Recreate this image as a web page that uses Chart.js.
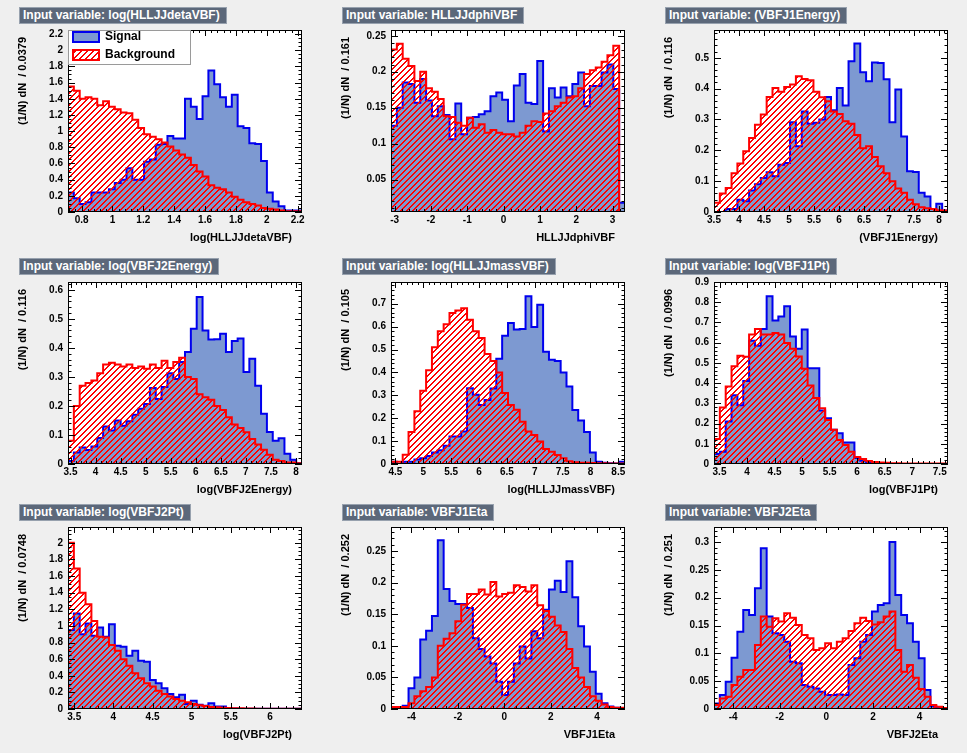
<!DOCTYPE html>
<html>
<head>
<meta charset="utf-8">
<title>TMVA input variables</title>
<script src="https://cdn.jsdelivr.net/npm/chart.js@4.4.1/dist/chart.umd.min.js"></script>
<style>
  html, body { margin: 0; padding: 0; background: #efefef; }
  #wrap { position: relative; width: 967px; height: 753px; overflow: hidden; }
  .panel { position: absolute; width: 323px; height: 245px; }
  .tag {
    position: absolute; height: 15px; line-height: 15px;
    background: #5c687a; border: 1px solid #97a1ae; color: #fff;
    font: bold 12px "Liberation Sans", Arial, Helvetica, sans-serif;
    padding: 0 6px 0 3px; white-space: nowrap;
  }
</style>
</head>
<body>
<div id="wrap"></div>
<script>
const FONT = '"Liberation Sans", Arial, Helvetica, sans-serif';

// 40 bins per histogram, (1/N) dN per bin
const detaSig = [0.24, 0.17, 0.10, 0.12, 0.24, 0.24, 0.24, 0.28, 0.36, 0.40,
  0.54, 0.40, 0.40, 0.62, 0.65, 0.83, 0.84, 0.94, 0.91, 0.91,
  1.40, 1.30, 1.15, 1.43, 1.75, 1.58, 1.42, 1.30, 1.45, 1.06,
  1.04, 0.85, 0.84, 0.63, 0.24, 0.13, 0.07, 0.02, 0.02, 0.02];
const detaBkg = [1.55, 1.50, 1.40, 1.42, 1.40, 1.32, 1.37, 1.30, 1.27, 1.23,
  1.22, 1.14, 1.04, 0.96, 0.93, 0.90, 0.86, 0.81, 0.76, 0.71,
  0.67, 0.58, 0.50, 0.44, 0.33, 0.30, 0.28, 0.24, 0.19, 0.15,
  0.12, 0.10, 0.08, 0.05, 0.04, 0.03, 0.02, 0.01, 0.01, 0.01];

const dphiSig = [0.125, 0.150, 0.185, 0.183, 0.157, 0.190, 0.160, 0.138, 0.152, 0.140,
  0.106, 0.156, 0.113, 0.136, 0.137, 0.141, 0.145, 0.166, 0.171, 0.161,
  0.131, 0.181, 0.197, 0.157, 0.155, 0.215, 0.117, 0.177, 0.164, 0.178,
  0.166, 0.183, 0.199, 0.152, 0.180, 0.180, 0.199, 0.210, 0.176, 0.018];
const dphiBkg = [0.231, 0.239, 0.218, 0.208, 0.187, 0.200, 0.177, 0.172, 0.162, 0.138,
  0.137, 0.129, 0.125, 0.136, 0.122, 0.127, 0.115, 0.119, 0.115, 0.113,
  0.113, 0.110, 0.115, 0.125, 0.131, 0.130, 0.142, 0.145, 0.152, 0.157,
  0.164, 0.166, 0.177, 0.197, 0.202, 0.206, 0.214, 0.223, 0.236, 0.000];

const j1eSig = [0.0, 0.0, 0.01, 0.01, 0.04, 0.035, 0.07, 0.09, 0.11, 0.129,
  0.116, 0.153, 0.159, 0.291, 0.213, 0.326, 0.286, 0.289, 0.30, 0.373,
  0.33, 0.402, 0.345, 0.489, 0.546, 0.453, 0.424, 0.485, 0.483, 0.43,
  0.291, 0.397, 0.245, 0.132, 0.13, 0.062, 0.05, 0.01, 0.027, 0.005];
const j1eBkg = [0.03, 0.06, 0.078, 0.126, 0.157, 0.197, 0.24, 0.283, 0.316, 0.373,
  0.402, 0.39, 0.405, 0.413, 0.44, 0.431, 0.427, 0.39, 0.372, 0.359,
  0.326, 0.318, 0.294, 0.286, 0.25, 0.207, 0.213, 0.178, 0.148, 0.126,
  0.10, 0.076, 0.062, 0.04, 0.025, 0.015, 0.012, 0.01, 0.006, 0.005];

const j2eSig = [0.01, 0.04, 0.057, 0.048, 0.06, 0.09, 0.129, 0.115, 0.15, 0.132,
  0.147, 0.17, 0.19, 0.207, 0.262, 0.224, 0.265, 0.313, 0.293, 0.351,
  0.386, 0.466, 0.575, 0.46, 0.429, 0.43, 0.449, 0.386, 0.424, 0.432,
  0.317, 0.363, 0.27, 0.173, 0.11, 0.08, 0.089, 0.035, 0.015, 0.003];
const j2eBkg = [0.08, 0.20, 0.27, 0.279, 0.288, 0.313, 0.343, 0.349, 0.343, 0.336,
  0.343, 0.331, 0.336, 0.328, 0.343, 0.331, 0.356, 0.331, 0.351, 0.366,
  0.30, 0.293, 0.24, 0.23, 0.221, 0.20, 0.186, 0.161, 0.136, 0.124,
  0.109, 0.086, 0.067, 0.049, 0.032, 0.015, 0.01, 0.005, 0.005, 0.003];

const mjjSig = [0.01, 0.0, 0.01, 0.01, 0.02, 0.025, 0.035, 0.05, 0.06, 0.08,
  0.12, 0.12, 0.142, 0.331, 0.302, 0.258, 0.28, 0.33, 0.46, 0.56,
  0.616, 0.587, 0.59, 0.733, 0.598, 0.696, 0.49, 0.455, 0.45, 0.40,
  0.339, 0.236, 0.19, 0.14, 0.05, 0.01, 0.005, 0.003, 0.002, 0.01];
const mjjBkg = [0.01, 0.01, 0.04, 0.14, 0.23, 0.32, 0.41, 0.51, 0.58, 0.61,
  0.66, 0.67, 0.68, 0.63, 0.58, 0.55, 0.48, 0.45, 0.40, 0.31,
  0.258, 0.237, 0.185, 0.142, 0.127, 0.098, 0.066, 0.054, 0.039, 0.025,
  0.012, 0.008, 0.006, 0.005, 0.004, 0.003, 0.003, 0.002, 0.002, 0.002];

const j1ptSig = [0.05, 0.06, 0.21, 0.34, 0.29, 0.41, 0.61, 0.585, 0.668, 0.83,
  0.71, 0.73, 0.78, 0.63, 0.57, 0.665, 0.474, 0.474, 0.264, 0.226,
  0.169, 0.152, 0.106, 0.106, 0.03, 0.016, 0.01, 0.005, 0, 0,
  0, 0, 0, 0, 0, 0, 0, 0, 0, 0];
const j1ptBkg = [0.124, 0.28, 0.383, 0.483, 0.535, 0.53, 0.64, 0.668, 0.64, 0.64,
  0.648, 0.64, 0.598, 0.57, 0.532, 0.471, 0.388, 0.326, 0.276, 0.218,
  0.169, 0.119, 0.094, 0.061, 0.035, 0.025, 0.015, 0.01, 0.008, 0.006,
  0.004, 0.004, 0.003, 0.003, 0.002, 0.002, 0.002, 0.002, 0.002, 0.002];

const j2ptSig = [0.95, 1.15, 0.90, 1.03, 0.88, 0.98, 0.87, 1.02, 0.76, 0.75,
  0.64, 0.70, 0.58, 0.57, 0.35, 0.31, 0.25, 0.18, 0.14, 0.17,
  0.06, 0.10, 0.05, 0.04, 0.07, 0.03, 0.03, 0.01, 0.005, 0.003,
  0.003, 0.003, 0.002, 0.002, 0.002, 0.002, 0.002, 0.002, 0.002, 0.002];
const j2ptBkg = [2.0, 1.69, 1.40, 1.26, 1.06, 0.87, 0.86, 0.77, 0.70, 0.60,
  0.52, 0.43, 0.37, 0.31, 0.27, 0.22, 0.18, 0.15, 0.12, 0.10,
  0.08, 0.06, 0.045, 0.035, 0.025, 0.02, 0.015, 0.012, 0.01, 0.008,
  0.006, 0.005, 0.004, 0.004, 0.003, 0.003, 0.003, 0.003, 0.003, 0.003];

const j1etaSig = [0.002, 0.003, 0.005, 0.033, 0.05, 0.11, 0.124, 0.147, 0.267, 0.19,
  0.171, 0.166, 0.166, 0.16, 0.112, 0.095, 0.083, 0.072, 0.043, 0.022,
  0.043, 0.072, 0.099, 0.08, 0.123, 0.112, 0.157, 0.189, 0.203, 0.185,
  0.234, 0.177, 0.131, 0.099, 0.059, 0.024, 0.009, 0.004, 0.002, 0.001];
const j1etaBkg = [0.003, 0.003, 0.003, 0.009, 0.02, 0.028, 0.035, 0.05, 0.10, 0.111,
  0.12, 0.139, 0.165, 0.182, 0.182, 0.189, 0.181, 0.201, 0.178, 0.182,
  0.184, 0.196, 0.193, 0.186, 0.196, 0.164, 0.155, 0.146, 0.132, 0.122,
  0.095, 0.065, 0.05, 0.035, 0.02, 0.013, 0.007, 0.003, 0.002, 0.002];

const j2etaSig = [0.01, 0.025, 0.049, 0.092, 0.139, 0.178, 0.169, 0.217, 0.289, 0.166,
  0.136, 0.133, 0.121, 0.085, 0.082, 0.043, 0.04, 0.037, 0.031, 0.025,
  0.025, 0.026, 0.025, 0.079, 0.091, 0.121, 0.133, 0.175, 0.187, 0.19,
  0.30, 0.205, 0.169, 0.154, 0.121, 0.091, 0.034, 0.005, 0.003, 0.002];
const j2etaBkg = [0.007, 0.019, 0.022, 0.043, 0.058, 0.07, 0.07, 0.115, 0.166, 0.148,
  0.163, 0.157, 0.172, 0.164, 0.151, 0.133, 0.127, 0.106, 0.109, 0.118,
  0.109, 0.121, 0.127, 0.14, 0.154, 0.164, 0.158, 0.152, 0.156, 0.166,
  0.175, 0.106, 0.067, 0.079, 0.056, 0.036, 0.022, 0.007, 0.004, 0.002];

// axis setup per panel (row by row)
const variables = ['log(HLLJJdetaVBF)', 'HLLJJdphiVBF', '(VBFJ1Energy)',
  'log(VBFJ2Energy)', 'log(HLLJJmassVBF)', 'log(VBFJ1Pt)',
  'log(VBFJ2Pt)', 'VBFJ1Eta', 'VBFJ2Eta'];
const binWidths = ['0.0379', '0.161', '0.116', '0.116', '0.105', '0.0996', '0.0748', '0.252', '0.251'];
const xRanges = [[0.712, 2.228], [-3.10, 3.34], [3.50, 8.18], [3.45, 8.12], [4.42, 8.62],
  [3.40, 7.65], [3.42, 6.41], [-4.88, 5.20], [-4.82, 5.22]];
const yRanges = [[0, 2.25], [0.005, 0.258], [0, 0.59], [0, 0.627], [0, 0.795],
  [0, 0.9], [0, 2.19], [0, 0.288], [0, 0.327]];
const xSteps = [0.2, 1, 0.5, 0.5, 0.5, 0.5, 0.5, 2, 2];
const ySteps = [0.2, 0.05, 0.1, 0.1, 0.1, 0.1, 0.2, 0.05, 0.05];
const signals = [detaSig, dphiSig, j1eSig, j2eSig, mjjSig, j1ptSig, j2ptSig, j1etaSig, j2etaSig];
const backgrounds = [detaBkg, dphiBkg, j1eBkg, j2eBkg, mjjBkg, j1ptBkg, j2ptBkg, j1etaBkg, j2etaBkg];

const rowTops = [0, 252, 497];
const tagTops = [7, 258, 504];

function fmt(v) {
    return String(+Number(v).toFixed(4));
}

// histogram outline as step points at bin edges
function steps(vals, range) {
    const w = (range[1] - range[0]) / vals.length;
    const pts = [{ x: range[0], y: 0 }];
    vals.forEach((v, i) => pts.push({ x: range[0] + i * w, y: v }));
    pts.push({ x: range[1], y: vals[vals.length - 1] });
    pts.push({ x: range[1], y: 0 });
    return pts;
}

// red diagonal hatch, two pixels per row so it stays red when shrunk
function hatch(ctx) {
    const n = 6;
    const c = document.createElement('canvas');
    c.width = n; c.height = n;
    const g = c.getContext('2d');
    g.fillStyle = '#ff0000';
    for (let i = 0; i < n; i++) {
        g.fillRect(i, n - 1 - i, 1, 1);
        g.fillRect((i + 1) % n, n - 1 - i, 1, 1);
    }
    return ctx.createPattern(c, 'repeat');
}

function eachTick(scale, step, div, fn) {
    const sub = step / div;
    const k0 = Math.ceil(scale.min / sub - 1e-6);
    const k1 = Math.floor(scale.max / sub + 1e-6);
    for (let k = k0; k <= k1; k++) fn(scale.getPixelForValue(k * sub), k % div === 0);
}

// ROOT-like frame: white pad, ticks inside on all four sides, axis titles, legend
const rootFrame = {
    id: 'rootFrame',
    beforeDatasetsDraw(chart) {
        const { ctx, chartArea: a } = chart;
        ctx.save();
        ctx.fillStyle = '#ffffff';
        ctx.fillRect(a.left, a.top, a.width, a.height);
        ctx.restore();
    },
    afterDatasetsDraw(chart, args, o) {
        const { ctx, chartArea: a } = chart;
        const x = chart.scales.x, y = chart.scales.y;
        ctx.save();
        ctx.strokeStyle = '#000';
        ctx.lineWidth = 1;
        ctx.beginPath();
        eachTick(x, o.xStep, o.xDiv, (px, major) => {
            const len = major ? 6 : 3;
            px = Math.round(px) + 0.5;
            ctx.moveTo(px, a.bottom); ctx.lineTo(px, a.bottom - len);
            ctx.moveTo(px, a.top); ctx.lineTo(px, a.top + len);
        });
        eachTick(y, o.yStep, o.yDiv, (py, major) => {
            const len = major ? 7 : 3.5;
            py = Math.round(py) + 0.5;
            ctx.moveTo(a.left, py); ctx.lineTo(a.left + len, py);
            ctx.moveTo(a.right, py); ctx.lineTo(a.right - len, py);
        });
        ctx.stroke();
        ctx.strokeRect(a.left + 0.5, a.top + 0.5, a.width - 1, a.height - 1);

        ctx.fillStyle = '#000';
        ctx.font = 'bold 11px ' + FONT;
        ctx.textBaseline = 'middle';
        ctx.textAlign = 'right';
        ctx.fillText(o.xTitle, a.right - 10, a.bottom + 26);
        ctx.save();
        ctx.translate(a.left - 45, a.top + 7);
        ctx.rotate(-Math.PI / 2);
        ctx.fillText(o.yTitle, 0, 0);
        ctx.restore();

        if (o.legend) {
            const lx = a.left, ly = a.top;
            ctx.fillStyle = '#fff';
            ctx.fillRect(lx + 1, ly + 1, 121, 33);
            ctx.strokeStyle = '#9a9a9a';
            ctx.strokeRect(lx + 0.5, ly + 0.5, 122, 34);
            ctx.lineWidth = 2;
            ctx.fillStyle = chart.data.datasets[1].backgroundColor;
            ctx.fillRect(lx + 5, ly + 2, 26, 10);
            ctx.strokeStyle = chart.data.datasets[1].borderColor;
            ctx.strokeRect(lx + 5, ly + 2, 26, 10);
            ctx.fillStyle = '#fff';
            ctx.fillRect(lx + 5, ly + 20, 26, 10);
            ctx.fillStyle = chart.data.datasets[0].backgroundColor;
            ctx.fillRect(lx + 5, ly + 20, 26, 10);
            ctx.strokeStyle = chart.data.datasets[0].borderColor;
            ctx.strokeRect(lx + 5, ly + 20, 26, 10);
            ctx.fillStyle = '#000';
            ctx.font = 'bold 12px ' + FONT;
            ctx.textAlign = 'left';
            ctx.fillText(chart.data.datasets[1].label, lx + 37, ly + 7);
            ctx.fillText(chart.data.datasets[0].label, lx + 37, ly + 25);
        }
        ctx.restore();
    }
};

const wrap = document.getElementById('wrap');

variables.forEach((name, i) => {
    const col = i % 3, row = Math.floor(i / 3);

    const tag = document.createElement('div');
    tag.className = 'tag';
    tag.style.left = (19 + col * 323) + 'px';
    tag.style.top = tagTops[row] + 'px';
    tag.textContent = 'Input variable: ' + name;

    const box = document.createElement('div');
    box.className = 'panel';
    box.style.left = (col * 323) + 'px';
    box.style.top = rowTops[row] + 'px';
    const canvas = document.createElement('canvas');
    canvas.width = 323;
    canvas.height = 245;
    box.appendChild(canvas);
    wrap.appendChild(box);
    wrap.appendChild(tag);

    const ctx = canvas.getContext('2d');
    const xr = xRanges[i], yr = yRanges[i];
    const tickFont = { family: FONT, size: 10, weight: 'bold' };

    new Chart(ctx, {
        type: 'line',
        data: {
            datasets: [{
                label: 'Background',
                data: steps(backgrounds[i], xr),
                stepped: true,
                borderColor: '#ff0000',
                borderWidth: 2,
                borderJoinStyle: 'miter',
                backgroundColor: hatch(ctx),
                fill: 'origin',
                pointRadius: 0
            }, {
                label: 'Signal',
                data: steps(signals[i], xr),
                stepped: true,
                borderColor: '#0000ee',
                borderWidth: 2,
                borderJoinStyle: 'miter',
                backgroundColor: '#7d99d1',
                fill: 'origin',
                pointRadius: 0
            }]
        },
        options: {
            animation: false,
            responsive: false,
            devicePixelRatio: 1,
            events: [],
            layout: { padding: { top: 30, right: 21, left: 0, bottom: 0 } },
            plugins: {
                legend: { display: false },
                tooltip: { enabled: false },
                rootFrame: {
                    xStep: xSteps[i], xDiv: xSteps[i] === 2 ? 4 : 5,
                    yStep: ySteps[i], yDiv: ySteps[i] === 0.2 ? 4 : 5,
                    xTitle: name,
                    yTitle: '(1/N) dN  / ' + binWidths[i],
                    legend: i === 0
                }
            },
            scales: {
                x: {
                    type: 'linear', min: xr[0], max: xr[1],
                    grid: { display: false, drawTicks: false },
                    border: { display: false },
                    ticks: {
                        stepSize: xSteps[i], includeBounds: false, autoSkip: false,
                        maxRotation: 0, padding: 2, color: '#000', font: tickFont, callback: fmt
                    },
                    afterFit: s => { s.height = 33; }
                },
                y: {
                    type: 'linear', min: yr[0], max: yr[1],
                    grid: { display: false, drawTicks: false },
                    border: { display: false },
                    ticks: {
                        stepSize: ySteps[i], includeBounds: false, autoSkip: false,
                        padding: 5, color: '#000', font: tickFont, callback: fmt
                    },
                    afterFit: s => { s.width = 68; }
                }
            }
        },
        plugins: [rootFrame]
    });
});
</script>
</body>
</html>
